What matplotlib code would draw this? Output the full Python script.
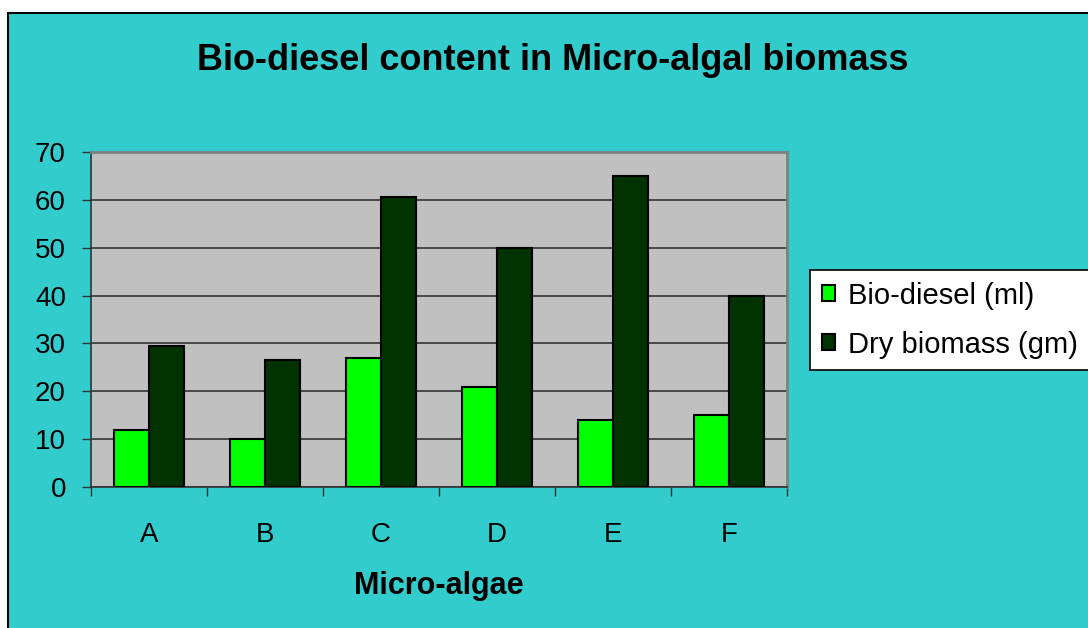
import matplotlib
matplotlib.use("Agg")
import matplotlib.pyplot as plt
from matplotlib.patches import Rectangle
import numpy as np

plt.rcParams['font.family'] = ['Liberation Sans', 'DejaVu Sans']

categories = ['A', 'B', 'C', 'D', 'E', 'F']
biodiesel = [12, 10, 27, 21, 14, 15]
dry_biomass = [29.5, 26.5, 60.5, 50, 65, 40]
yticks = [0, 10, 20, 30, 40, 50, 60, 70]

W, H = 1088, 628
fig = plt.figure(figsize=(W / 100, H / 100), dpi=100)
fig.patch.set_facecolor('white')
bg = Rectangle((8 / W, -0.01), 1.1, (H - 13) / H + 0.01,
               transform=fig.transFigure, facecolor='#33CCCC',
               edgecolor='black', linewidth=1.5, zorder=-10)
fig.patches.append(bg)

ax = fig.add_axes([91 / W, (H - 487) / H, (787 - 91) / W, (487 - 152) / H])
ax.set_facecolor('#C0C0C0')
x = np.arange(len(categories))
bw = 0.3
b1 = ax.bar(x - bw / 2, biodiesel, bw, color='#00FF00', edgecolor='black',
            linewidth=1.5, label='Bio-diesel (ml)', zorder=3)
b2 = ax.bar(x + bw / 2, dry_biomass, bw, color='#003300', edgecolor='black',
            linewidth=1.5, label='Dry biomass (gm)', zorder=3)

ax.set_xlim(-0.5, len(categories) - 0.5)
ax.set_ylim(0, 70)
ax.set_yticks(yticks)
ax.yaxis.grid(True, color='#333333', linewidth=1.2, zorder=1)
ax.set_axisbelow(True)
ax.tick_params(axis='y', labelsize=20, length=6.5, width=1, color='#333333', pad=11.5)
ax.set_xticks(x)
ax.set_xticklabels(categories, fontsize=20)
ax.tick_params(axis='x', which='major', length=0, pad=25)
ax.set_xticks(np.arange(-0.5, len(categories), 1), minor=True)
ax.tick_params(axis='x', which='minor', length=6.5, width=1, color='#333333')

for s in ['top', 'right']:
    ax.spines[s].set_color('#808080')
    ax.spines[s].set_linewidth(2)
ax.spines['left'].set_color('#333333')
ax.spines['bottom'].set_color('#333333')
ax.spines['left'].set_linewidth(1.2)
ax.spines['bottom'].set_linewidth(1.2)

ax.set_xlabel('Micro-algae', fontsize=22, fontweight='bold', labelpad=17)

fig.text(553 / W, 1 - 61 / H, 'Bio-diesel content in Micro-algal biomass',
         fontsize=26, fontweight='bold', ha='center', va='center')

leg = fig.legend(handles=[b1, b2], loc='upper left',
                 bbox_to_anchor=(810 / W, 1 - 270 / H), fontsize=21,
                 frameon=True, fancybox=False, edgecolor='black',
                 framealpha=1, handlelength=0.45, handleheight=0.45,
                 handletextpad=0.45, borderpad=0.4, labelspacing=0.72,
                 borderaxespad=0)
leg.get_frame().set_linewidth(1.2)
leg.get_frame().set_facecolor('white')

fig.savefig('out.png', dpi=100)
